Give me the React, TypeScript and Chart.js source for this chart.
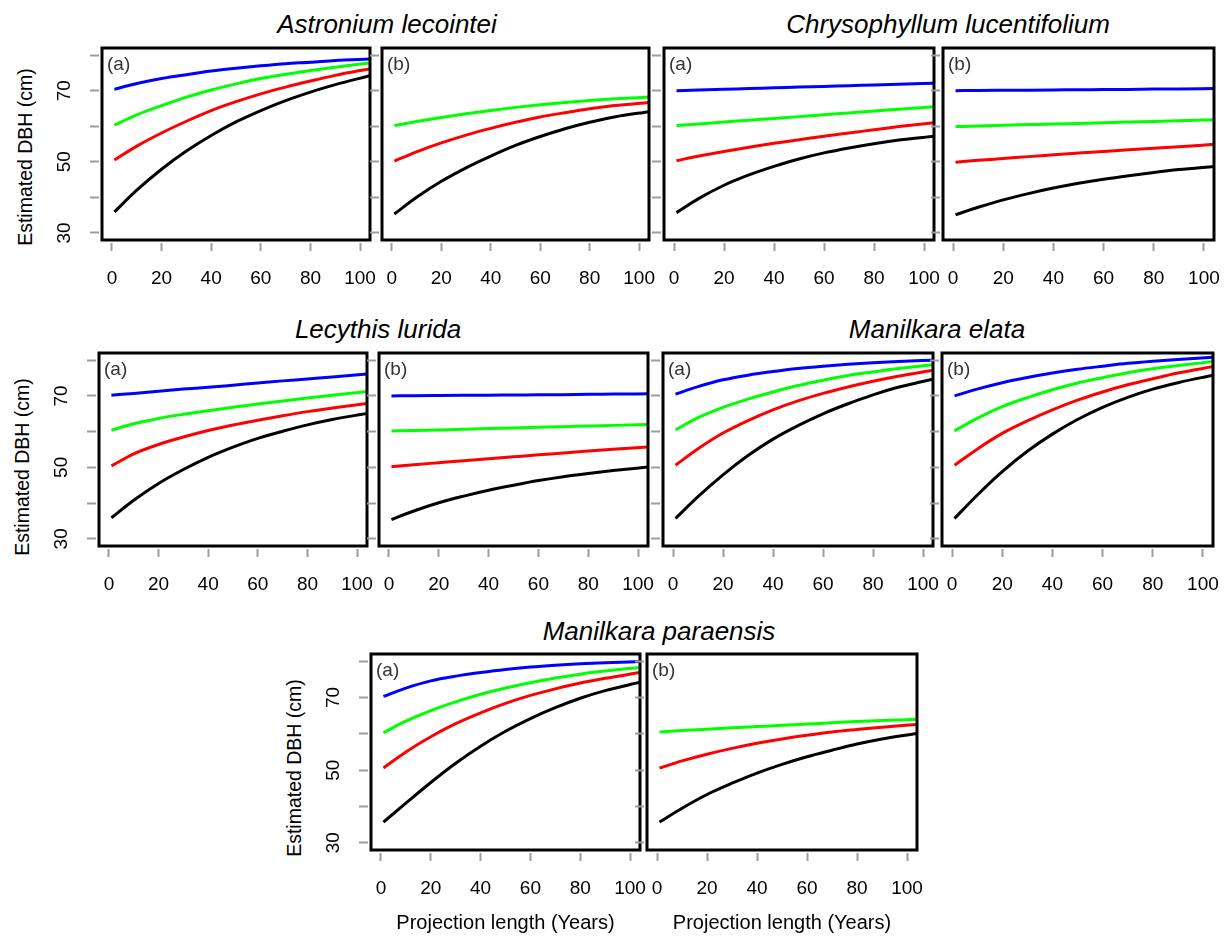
import React, { useEffect, useRef } from 'react';
import { Chart, registerables } from 'chart.js';

Chart.register(...registerables);

const FONT = "'Liberation Sans', Arial, Helvetica, sans-serif";

// ---------- data ----------
const YEARS = [1, 10, 20, 30, 40, 50, 60, 70, 80, 90, 104];
const X_TICKS = [0, 20, 40, 60, 80, 100];
const Y_TICKS = [30, 40, 50, 60, 70, 80];
const Y_LABELS = [30, 50, 70];
const X_MIN = -4;
const X_MAX = 104;
const Y_MIN = 28;
const Y_MAX = 82;

// Astronium lecointei
const AST_A_BLUE = [70.4, 72.0, 73.4, 74.5, 75.5, 76.3, 77.0, 77.6, 78.0, 78.5, 78.9];
const AST_A_GREEN = [60.3, 63.2, 65.8, 68.2, 70.2, 71.9, 73.4, 74.6, 75.7, 76.6, 77.8];
const AST_A_RED = [50.5, 54.4, 58.1, 61.4, 64.4, 66.9, 69.1, 71.0, 72.7, 74.3, 76.2];
const AST_A_BLACK = [35.9, 42.0, 47.9, 53.0, 57.4, 61.2, 64.4, 67.2, 69.6, 71.7, 74.2];

const AST_B_GREEN = [60.2, 61.3, 62.45, 63.5, 64.45, 65.3, 66.05, 66.7, 67.25, 67.7, 68.2];
const AST_B_RED = [50.2, 52.8, 55.3, 57.5, 59.4, 61.1, 62.6, 63.8, 64.9, 65.8, 66.7];
const AST_B_BLACK = [35.3, 40.0, 44.5, 48.3, 51.6, 54.6, 57.1, 59.3, 61.1, 62.6, 64.1];

// Chrysophyllum lucentifolium
const CHR_A_BLUE = [70.0, 70.2, 70.4, 70.6, 70.8, 71.0, 71.2, 71.4, 71.6, 71.8, 72.1];
const CHR_A_GREEN = [60.2, 60.65, 61.2, 61.7, 62.2, 62.7, 63.2, 63.75, 64.3, 64.8, 65.5];
const CHR_A_RED = [50.3, 51.6, 52.9, 54.1, 55.2, 56.2, 57.2, 58.1, 59.0, 59.9, 61.0];
const CHR_A_BLACK = [35.7, 39.7, 43.4, 46.3, 48.7, 50.8, 52.5, 53.9, 55.1, 56.1, 57.2];

const CHR_B_BLUE = [70.0, 70.05, 70.1, 70.15, 70.2, 70.25, 70.3, 70.35, 70.45, 70.5, 70.6];
const CHR_B_GREEN = [59.9, 60.05, 60.25, 60.45, 60.65, 60.8, 61.0, 61.2, 61.35, 61.55, 61.8];
const CHR_B_RED = [49.9, 50.4, 50.9, 51.45, 51.95, 52.45, 52.9, 53.35, 53.8, 54.25, 54.9];
const CHR_B_BLACK = [35.1, 37.2, 39.3, 41.05, 42.6, 43.95, 45.1, 46.1, 47.0, 47.8, 48.7];

// Lecythis lurida
const LEC_A_BLUE = [70.2, 70.7, 71.3, 71.9, 72.4, 73.0, 73.6, 74.2, 74.7, 75.3, 76.1];
const LEC_A_GREEN = [60.4, 62.2, 63.7, 64.85, 65.85, 66.8, 67.7, 68.55, 69.4, 70.2, 71.2];
const LEC_A_RED = [50.4, 53.8, 56.4, 58.5, 60.3, 61.85, 63.2, 64.45, 65.6, 66.6, 67.9];
const LEC_A_BLACK = [35.9, 40.8, 45.5, 49.4, 52.8, 55.65, 58.1, 60.1, 61.9, 63.4, 65.1];

const LEC_B_BLUE = [70.0, 70.05, 70.1, 70.15, 70.2, 70.25, 70.3, 70.35, 70.45, 70.5, 70.6];
const LEC_B_GREEN = [60.2, 60.3, 60.45, 60.65, 60.85, 61.0, 61.2, 61.4, 61.55, 61.75, 62.0];
const LEC_B_RED = [50.2, 50.75, 51.3, 51.85, 52.4, 52.95, 53.5, 54.0, 54.55, 55.05, 55.7];
const LEC_B_BLACK = [35.4, 37.8, 40.1, 41.95, 43.6, 45.0, 46.3, 47.4, 48.3, 49.1, 50.1];

// Manilkara elata
const MAE_A_BLUE = [70.5, 72.6, 74.5, 75.8, 76.8, 77.65, 78.3, 78.85, 79.3, 79.65, 80.0];
const MAE_A_GREEN = [60.5, 63.9, 66.8, 69.1, 71.1, 72.9, 74.4, 75.7, 76.7, 77.65, 78.7];
const MAE_A_RED = [50.6, 55.2, 59.6, 63.1, 66.1, 68.6, 70.7, 72.5, 74.1, 75.5, 77.2];
const MAE_A_BLACK = [35.7, 41.8, 47.9, 53.3, 57.9, 61.7, 65.0, 67.8, 70.3, 72.4, 74.7];

const MAE_B_BLUE = [70.0, 71.9, 73.7, 75.15, 76.4, 77.45, 78.3, 79.1, 79.7, 80.2, 80.8];
const MAE_B_GREEN = [60.2, 63.7, 67.0, 69.5, 71.7, 73.6, 75.1, 76.5, 77.6, 78.5, 79.6];
const MAE_B_RED = [50.6, 55.1, 59.5, 63.0, 66.1, 68.8, 71.1, 73.1, 74.8, 76.4, 78.2];
const MAE_B_BLACK = [35.7, 42.2, 48.8, 54.5, 59.3, 63.4, 66.8, 69.6, 71.9, 73.7, 75.8];

// Manilkara paraensis
const MAP_A_BLUE = [70.3, 72.6, 74.6, 75.9, 76.9, 77.75, 78.4, 78.9, 79.3, 79.6, 79.9];
const MAP_A_GREEN = [60.3, 63.5, 66.4, 68.8, 70.9, 72.65, 74.1, 75.4, 76.45, 77.3, 78.3];
const MAP_A_RED = [50.6, 55.0, 59.2, 62.8, 65.8, 68.4, 70.6, 72.4, 74.0, 75.3, 76.9];
const MAP_A_BLACK = [35.7, 40.9, 46.6, 51.9, 56.6, 60.7, 64.2, 67.2, 69.8, 71.9, 74.2];

const MAP_B_GREEN = [60.5, 60.9, 61.3, 61.65, 62.0, 62.35, 62.7, 63.05, 63.4, 63.7, 64.0];
const MAP_B_RED = [50.6, 52.55, 54.4, 56.0, 57.4, 58.6, 59.6, 60.5, 61.2, 61.85, 62.6];
const MAP_B_BLACK = [35.7, 39.5, 43.3, 46.4, 49.2, 51.6, 53.7, 55.5, 57.2, 58.6, 60.1];

type Series = { blue?: number[]; green: number[]; red: number[]; black: number[] };
type PanelDef = { tag: string; series: Series; first: boolean; xTitle: boolean };

const PANELS: PanelDef[] = [
  { tag: '(a)', first: true, xTitle: false, series: { blue: AST_A_BLUE, green: AST_A_GREEN, red: AST_A_RED, black: AST_A_BLACK } },
  { tag: '(b)', first: false, xTitle: false, series: { green: AST_B_GREEN, red: AST_B_RED, black: AST_B_BLACK } },
  { tag: '(a)', first: false, xTitle: false, series: { blue: CHR_A_BLUE, green: CHR_A_GREEN, red: CHR_A_RED, black: CHR_A_BLACK } },
  { tag: '(b)', first: false, xTitle: false, series: { blue: CHR_B_BLUE, green: CHR_B_GREEN, red: CHR_B_RED, black: CHR_B_BLACK } },
  { tag: '(a)', first: true, xTitle: false, series: { blue: LEC_A_BLUE, green: LEC_A_GREEN, red: LEC_A_RED, black: LEC_A_BLACK } },
  { tag: '(b)', first: false, xTitle: false, series: { blue: LEC_B_BLUE, green: LEC_B_GREEN, red: LEC_B_RED, black: LEC_B_BLACK } },
  { tag: '(a)', first: false, xTitle: false, series: { blue: MAE_A_BLUE, green: MAE_A_GREEN, red: MAE_A_RED, black: MAE_A_BLACK } },
  { tag: '(b)', first: false, xTitle: false, series: { blue: MAE_B_BLUE, green: MAE_B_GREEN, red: MAE_B_RED, black: MAE_B_BLACK } },
  { tag: '(a)', first: true, xTitle: true, series: { blue: MAP_A_BLUE, green: MAP_A_GREEN, red: MAP_A_RED, black: MAP_A_BLACK } },
  { tag: '(b)', first: false, xTitle: true, series: { green: MAP_B_GREEN, red: MAP_B_RED, black: MAP_B_BLACK } },
];

// ---------- layout (plot boxes: left, top, right, bottom) ----------
const BOXES = [
  [102, 48, 370, 240], [382, 48, 649, 240], [664, 48, 934, 240], [943, 48, 1214, 240],
  [99, 353, 367, 546], [379, 353, 648, 546], [663, 353, 933, 546], [942, 353, 1213, 546],
  [371, 654, 640, 850], [647, 654, 917, 850],
];

const TITLES = [
  { text: 'Astronium lecointei', cx: 387, base: 33 },
  { text: 'Chrysophyllum lucentifolium', cx: 948, base: 33 },
  { text: 'Lecythis lurida', cx: 378, base: 338 },
  { text: 'Manilkara elata', cx: 937, base: 338 },
  { text: 'Manilkara paraensis', cx: 659, base: 640 },
];

const Y_TITLES = [
  { cx: 25, cy: 157 },
  { cx: 22, cy: 467 },
  { cx: 294, cy: 768 },
];

const COLORS = { blue: '#0000ff', green: '#00ff00', red: '#ff0000', black: '#000000' };
const TICK_COLOR = '#9c9c9c';

const panelPlugin = {
  id: 'panelBox',
  afterDatasetsDraw(chart: any, _args: any, opts: any) {
    const { ctx, chartArea } = chart;
    const { left, top, right, bottom } = chartArea;
    ctx.save();
    ctx.strokeStyle = '#000';
    ctx.lineWidth = 3;
    ctx.strokeRect(left, top, right - left, bottom - top);
    ctx.fillStyle = '#333';
    ctx.font = `19px ${FONT}`;
    ctx.textAlign = 'left';
    ctx.textBaseline = 'middle';
    ctx.fillText(opts.label || '', left + 5, top + 17);
    ctx.restore();
  },
};

function PanelChart({ p, box }: { p: PanelDef; box: number[] }) {
  const ref = useRef<HTMLCanvasElement>(null);
  const padL = p.first ? 64 : 20;
  const padT = 10;
  const padR = 30;
  const padB = p.xTitle ? 86 : 56;
  const [bl, bt, br, bb] = box;
  const W = br - bl + padL + padR;
  const H = bb - bt + padT + padB;

  useEffect(() => {
    if (!ref.current) return;
    const datasets: any[] = [];
    (['blue', 'green', 'red', 'black'] as const).forEach((k) => {
      const arr = (p.series as any)[k] as number[] | undefined;
      if (!arr) return;
      datasets.push({
        label: k,
        data: YEARS.map((x, i) => ({ x, y: arr[i] })),
        borderColor: COLORS[k],
        backgroundColor: COLORS[k],
        borderWidth: 3,
        pointRadius: 0,
        cubicInterpolationMode: 'monotone',
        fill: false,
      });
    });

    const chart = new Chart(ref.current, {
      type: 'line',
      data: { datasets },
      plugins: [panelPlugin as any],
      options: {
        responsive: false,
        animation: false,
        devicePixelRatio: 1,
        events: [],
        layout: { padding: { left: 0, top: padT, right: padR, bottom: 0 } },
        plugins: {
          legend: { display: false },
          tooltip: { enabled: false },
          panelBox: { label: p.tag },
        } as any,
        scales: {
          x: {
            type: 'linear',
            min: X_MIN,
            max: X_MAX,
            afterBuildTicks: (s: any) => {
              s.ticks = X_TICKS.map((v) => ({ value: v }));
            },
            afterFit: (s: any) => {
              s.height = padB;
              s.paddingLeft = 0;
              s.paddingRight = 0;
              s.paddingTop = 0;
              s.paddingBottom = 0;
            },
            border: { display: false },
            grid: {
              display: true,
              drawOnChartArea: false,
              drawTicks: true,
              tickLength: 11,
              tickColor: TICK_COLOR,
              tickWidth: 2,
              tickBorderDash: [0, 3, 8, 40],
            },
            ticks: {
              color: '#000',
              font: { family: FONT, size: 19 },
              padding: 16,
              autoSkip: false,
              minRotation: 0,
              maxRotation: 0,
              callback: (v: any) => String(v),
            },
            title: p.xTitle
              ? {
                  display: true,
                  text: 'Projection length (Years)',
                  color: '#000',
                  font: { family: FONT, size: 20 },
                  padding: { top: 0, bottom: 1 },
                }
              : { display: false },
          } as any,
          y: {
            type: 'linear',
            min: Y_MIN,
            max: Y_MAX,
            afterBuildTicks: (s: any) => {
              s.ticks = Y_TICKS.map((v) => ({ value: v }));
            },
            afterFit: (s: any) => {
              s.width = padL;
              s.paddingLeft = 0;
              s.paddingRight = 0;
              s.paddingTop = 0;
              s.paddingBottom = 0;
            },
            border: { display: false },
            grid: {
              display: true,
              drawOnChartArea: false,
              drawTicks: true,
              tickLength: 12,
              tickColor: TICK_COLOR,
              tickWidth: 2,
              tickBorderDash: [9, 40],
            },
            ticks: {
              display: p.first,
              color: '#000',
              font: { family: FONT, size: 19 },
              padding: 15,
              crossAlign: 'center',
              minRotation: 90,
              maxRotation: 90,
              autoSkip: false,
              callback: (v: any) => (Y_LABELS.includes(Number(v)) ? String(v) : ''),
            },
          } as any,
        },
      },
    });
    return () => chart.destroy();
  }, []);

  return (
    <canvas
      ref={ref}
      width={W}
      height={H}
      style={{ position: 'absolute', left: bl - padL, top: bt - padT, width: W, height: H }}
    />
  );
}

export default function App() {
  return (
    <div
      style={{
        position: 'absolute',
        left: 0,
        top: 0,
        width: 1226,
        height: 937,
        overflow: 'hidden',
        background: '#fff',
      }}
    >
      {TITLES.map((t, i) => (
        <div
          key={'t' + i}
          style={{
            position: 'absolute',
            left: t.cx,
            top: t.base - 22,
            transform: 'translateX(-50%)',
            whiteSpace: 'nowrap',
            fontFamily: FONT,
            fontStyle: 'italic',
            fontSize: 26,
            lineHeight: '26px',
            color: '#000',
          }}
        >
          {t.text}
        </div>
      ))}
      {Y_TITLES.map((t, i) => (
        <div
          key={'y' + i}
          style={{
            position: 'absolute',
            left: t.cx,
            top: t.cy,
            transform: 'translate(-50%, -50%) rotate(-90deg)',
            whiteSpace: 'nowrap',
            fontFamily: FONT,
            fontSize: 19.5,
            lineHeight: '20px',
            color: '#000',
          }}
        >
          Estimated DBH (cm)
        </div>
      ))}
      {PANELS.map((p, i) => (
        <PanelChart key={i} p={p} box={BOXES[i]} />
      ))}
    </div>
  );
}
